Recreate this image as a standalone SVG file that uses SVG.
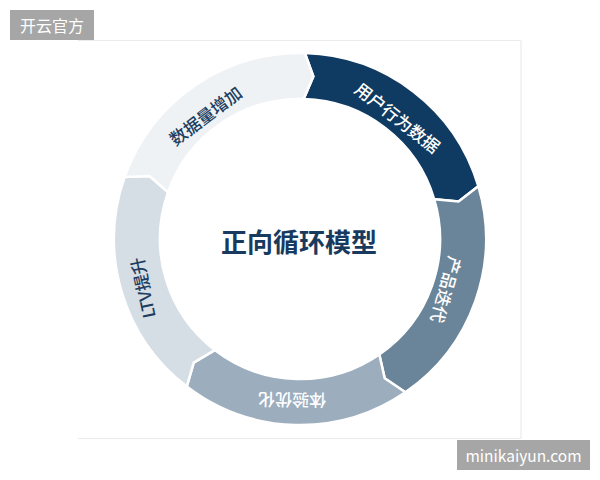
<svg xmlns="http://www.w3.org/2000/svg" width="600" height="480" viewBox="0 0 600 480">
<style>
.seg{stroke:#ffffff;stroke-width:2.5;stroke-linejoin:miter}
.lbl{font-family:"Noto Sans CJK SC","Noto Sans",sans-serif;font-size:17px;font-weight:500;text-anchor:middle;dominant-baseline:central}
.dk{fill:#1c3d5f}
.wt{fill:#ffffff}
.wm{font-family:"Noto Sans CJK SC","Noto Sans",sans-serif;fill:#ffffff;text-anchor:middle;dominant-baseline:central}
</style>
<rect width="600" height="480" fill="#ffffff"/>
<g id="card" stroke="#ebebeb" stroke-width="1.2" fill="none">
<line x1="78" y1="40.5" x2="521" y2="40.5"/>
<line x1="78" y1="438.5" x2="521" y2="438.5"/>
<line x1="521" y1="40.5" x2="521" y2="438.5"/>
</g>
<g id="node-behavior">
<path class="seg" fill="#0f3a61" d="M 304.87 53.06 A 186 186 0 0 1 478.34 186.17 L 458.63 201.5 L 434.23 199.24 A 140 140 0 0 0 303.67 99.05 L 313.36 76.55 Z"/>
<text class="lbl wt" transform="translate(398,117) rotate(38)">用户行为数据</text>
</g>
<g id="node-iterate">
<path class="seg" fill="#6a8499" d="M 478.34 186.17 A 186 186 0 0 1 405.35 392.29 L 384.68 378.28 L 379.30 354.38 A 140 140 0 0 0 434.23 199.24 L 458.63 201.5 Z"/>
<text class="lbl wt" transform="translate(447,290) rotate(106)">产品迭代</text>
</g>
<g id="node-experience">
<path class="seg" fill="#9cadbe" d="M 405.35 392.29 A 186 186 0 0 1 186.77 386.56 L 193.71 362.58 L 214.77 350.07 A 140 140 0 0 0 379.30 354.38 L 384.68 378.28 Z"/>
<text class="lbl wt" transform="translate(292,401) rotate(181)">体验优化</text>
</g>
<g id="node-ltv">
<path class="seg" fill="#d6dee5" d="M 186.77 386.56 A 186 186 0 0 1 124.67 176.91 L 149.59 176.10 L 168.03 192.27 A 140 140 0 0 0 214.77 350.07 L 193.71 362.58 Z"/>
<text class="lbl dk" transform="translate(142,288) rotate(-102)">LTV提升</text>
</g>
<g id="node-data">
<path class="seg" fill="#eff2f5" d="M 124.67 176.91 A 186 186 0 0 1 304.87 53.06 L 313.36 76.55 L 303.67 99.05 A 140 140 0 0 0 168.03 192.27 L 149.59 176.10 Z"/>
<text class="lbl dk" transform="translate(205,115) rotate(-37)">数据量增加</text>
</g>
<g id="node-center">
<text x="299" y="240" font-family="'Noto Sans CJK SC','Noto Sans',sans-serif" font-size="26" font-weight="bold" fill="#173a5e" text-anchor="middle" dominant-baseline="central">正向循环模型</text>
</g>
<g id="watermarks">
<rect x="10" y="10" width="84" height="30" fill="#a6a6a6"/>
<text class="wm" x="52" y="25" font-size="16">开云官方</text>
<rect x="457" y="440" width="133" height="30" fill="#a6a6a6"/>
<text class="wm" x="523.5" y="455" font-size="15.5">minikaiyun.com</text>
</g>
</svg>
